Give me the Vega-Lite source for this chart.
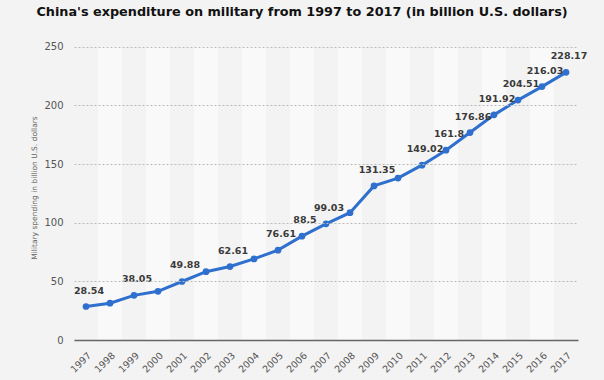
{
  "$schema": "https://vega.github.io/schema/vega-lite/v6.json",
  "width": 504,
  "height": 305,
  "autosize": {"type": "none"},
  "padding": {"left": 74, "top": 35, "right": 26, "bottom": 40},
  "background": "#f3f3f3",
  "title": {
    "text": "China's expenditure on military from 1997 to 2017 (in billion U.S. dollars)",
    "font": "DejaVu Sans",
    "fontSize": 12.8,
    "fontWeight": "bold",
    "color": "#111111",
    "anchor": "middle",
    "dx": -24,
    "offset": 16
  },
  "config": {
    "font": "DejaVu Sans",
    "view": {"stroke": null}
  },
  "data": {
    "values": [
      {"year": "1997", "value": 28.54},
      {"year": "1998", "value": 31.4},
      {"year": "1999", "value": 38.05},
      {"year": "2000", "value": 41.5},
      {"year": "2001", "value": 49.88},
      {"year": "2002", "value": 58.2},
      {"year": "2003", "value": 62.61},
      {"year": "2004", "value": 69.1},
      {"year": "2005", "value": 76.61},
      {"year": "2006", "value": 88.5},
      {"year": "2007", "value": 99.03},
      {"year": "2008", "value": 108.5},
      {"year": "2009", "value": 131.35},
      {"year": "2010", "value": 138.0},
      {"year": "2011", "value": 149.02},
      {"year": "2012", "value": 161.8},
      {"year": "2013", "value": 176.86},
      {"year": "2014", "value": 191.92},
      {"year": "2015", "value": 204.51},
      {"year": "2016", "value": 216.03},
      {"year": "2017", "value": 228.17}
    ]
  },
  "encoding": {
    "x": {
      "field": "year",
      "type": "ordinal",
      "scale": {"paddingInner": 0, "paddingOuter": 0},
      "axis": {
        "title": null,
        "labelAngle": -45,
        "labelFontSize": 9.5,
        "labelColor": "#555555",
        "ticks": false,
        "labelPadding": 10,
        "domainColor": "#666666",
        "domainWidth": 1.5,
        "grid": false
      }
    }
  },
  "layer": [
    {
      "transform": [{"filter": {"field": "year", "oneOf": ["1998", "2000", "2002", "2004", "2006", "2008", "2010", "2012", "2014", "2016"]}}],
      "mark": {"type": "rect", "color": "#f9f9f9"},
      "encoding": {
        "y": {
          "datum": 0,
          "type": "quantitative",
          "scale": {"domain": [0, 250]},
          "axis": {
            "title": "Military spending in billion U.S. dollars",
            "titleFontSize": 7.5,
            "titleFontWeight": "normal",
            "titleColor": "#666666",
            "titlePadding": 5,
            "values": [0, 50, 100, 150, 200, 250],
            "labelFontSize": 10,
            "labelColor": "#555555",
            "labelPadding": 11,
            "ticks": false,
            "domain": false,
            "grid": true,
            "gridDash": [2, 2],
            "gridColor": "#bbbbbb",
            "gridWidth": 1,
            "gridOpacity": 1,
            "zindex": 1
          }
        },
        "y2": {"datum": 250}
      }
    },
    {
      "mark": {"type": "line", "color": "#2f6fce", "strokeWidth": 3},
      "encoding": {
        "y": {"field": "value", "type": "quantitative"}
      }
    },
    {
      "mark": {"type": "point", "filled": true, "size": 45, "color": "#2f6fce", "opacity": 1},
      "encoding": {
        "y": {"field": "value", "type": "quantitative"}
      }
    },
    {
      "transform": [{"filter": {"field": "year", "oneOf": ["1997", "1999", "2001", "2003", "2005", "2006", "2007", "2009", "2011", "2012", "2013", "2014", "2015", "2016", "2017"]}}],
      "mark": {"type": "text", "fontSize": 9.5, "fontWeight": "bold", "color": "#3a3a3a", "dx": 3, "dy": -16, "baseline": "middle"},
      "encoding": {
        "y": {"field": "value", "type": "quantitative"},
        "text": {"field": "value", "type": "quantitative"}
      }
    }
  ]
}
